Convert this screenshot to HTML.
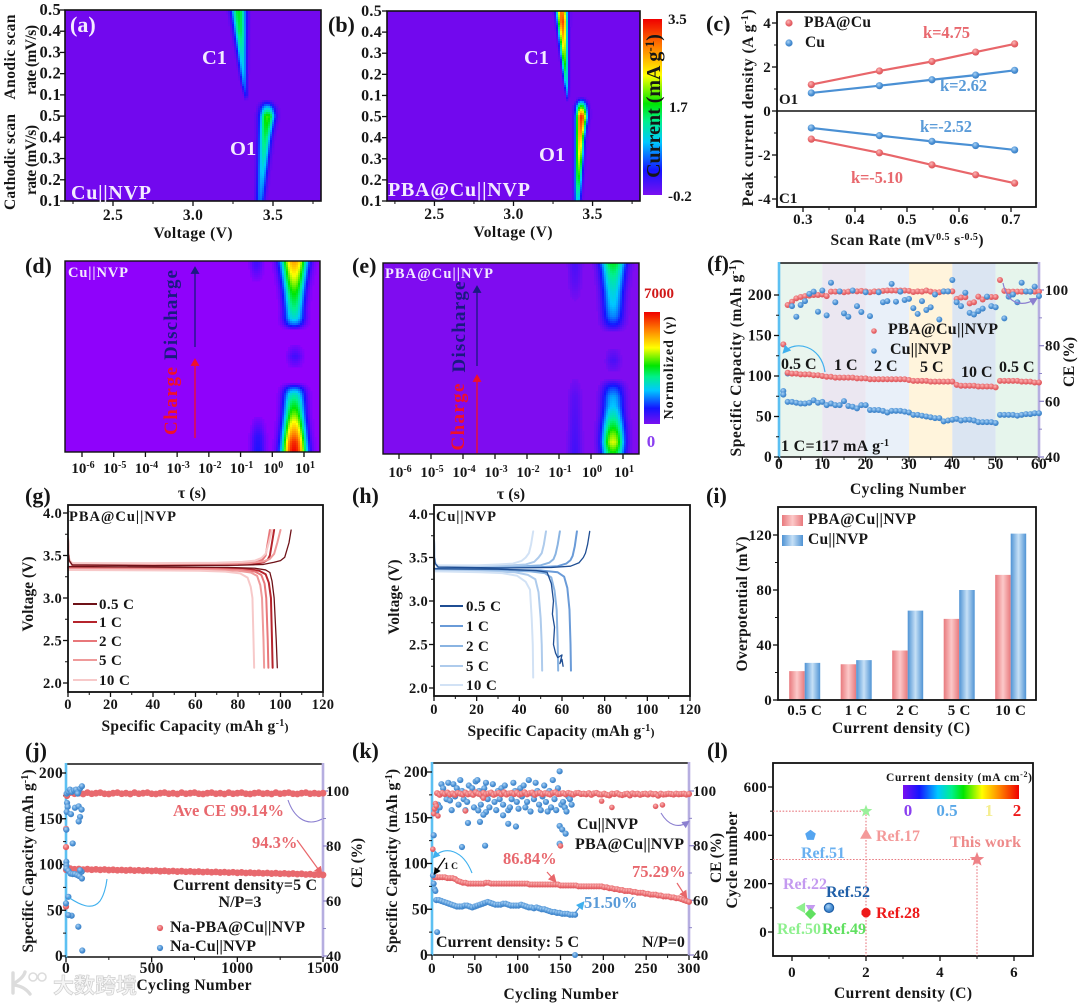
<!DOCTYPE html>
<html lang="en">
<head>
<meta charset="utf-8">
<title>Battery electrochemistry composite figure</title>
<style>
html,body{margin:0;padding:0;background:#fff;width:1080px;height:1004px;overflow:hidden}
svg{display:block;filter:blur(.3px)}
text{font-family:"Liberation Serif","Noto Sans CJK SC",serif;font-weight:bold;fill:#161616}
.tk{font-size:15px}
.ti{font-size:15.5px}
.pl{font-size:22px}
.lg{font-size:16px}
.red{fill:#e8686e}
.blu{fill:#5a9bd8}
.wh{fill:#f3eaff}
</style>
</head>
<body>
<svg id="figure" xmlns="http://www.w3.org/2000/svg" width="1080" height="1004" viewBox="0 0 1080 1004">
<defs>
<radialGradient id="ballRed" cx="40%" cy="35%" r="70%"><stop offset="0" stop-color="#fbb7b7"/><stop offset=".6" stop-color="#e8666a"/><stop offset="1" stop-color="#d95459"/></radialGradient>
<radialGradient id="ballBlue" cx="40%" cy="35%" r="70%"><stop offset="0" stop-color="#a9d2f5"/><stop offset=".6" stop-color="#4a90d4"/><stop offset="1" stop-color="#3a7cc0"/></radialGradient>
<linearGradient id="barRed" x1="0" x2="1" y1="0" y2="0"><stop offset="0" stop-color="#e8797d"/><stop offset=".5" stop-color="#fcc9c9"/><stop offset="1" stop-color="#e8797d"/></linearGradient>
<linearGradient id="barBlue" x1="0" x2="1" y1="0" y2="0"><stop offset="0" stop-color="#4f93d4"/><stop offset=".5" stop-color="#c6e0f6"/><stop offset="1" stop-color="#4f93d4"/></linearGradient>
<linearGradient id="rainbowV" x1="0" x2="0" y1="1" y2="0"><stop offset="0" stop-color="#7a10f0"/><stop offset=".14" stop-color="#1414ff"/><stop offset=".3" stop-color="#00c8ff"/><stop offset=".42" stop-color="#00f08c"/><stop offset=".52" stop-color="#00e600"/><stop offset=".68" stop-color="#ffff00"/><stop offset=".84" stop-color="#ff8000"/><stop offset="1" stop-color="#f00000"/></linearGradient>
<linearGradient id="rainbowH" x1="0" x2="1" y1="0" y2="0"><stop offset="0" stop-color="#7a10f0"/><stop offset=".14" stop-color="#1414ff"/><stop offset=".3" stop-color="#00c8ff"/><stop offset=".42" stop-color="#00f08c"/><stop offset=".52" stop-color="#00e600"/><stop offset=".68" stop-color="#ffff00"/><stop offset=".84" stop-color="#ff8000"/><stop offset="1" stop-color="#f00000"/></linearGradient>
<marker id="headBlue" markerWidth="7" markerHeight="7" refX="5" refY="3.5" orient="auto"><path d="M0,0L7,3.5L0,7Z" fill="#3fb0ee"/></marker>
<marker id="headPurple" markerWidth="7" markerHeight="7" refX="5" refY="3.5" orient="auto"><path d="M0,0L7,3.5L0,7Z" fill="#8b7fd0"/></marker>
<marker id="headRed" markerWidth="7" markerHeight="7" refX="5" refY="3.5" orient="auto"><path d="M0,0L7,3.5L0,7Z" fill="#e8666a"/></marker>
<marker id="headNavy" markerWidth="6" markerHeight="7" refX="3" refY="3.5" orient="auto"><path d="M0,0L6,3.5L0,7Z" fill="#1a1a80"/></marker>
<marker id="headCrim" markerWidth="6" markerHeight="7" refX="3" refY="3.5" orient="auto"><path d="M0,0L6,3.5L0,7Z" fill="#f0102a"/></marker>
<marker id="headBlack" markerWidth="6" markerHeight="6" refX="4" refY="3" orient="auto"><path d="M0,0L6,3L0,6Z" fill="#000"/></marker>
</defs>

<!-- PANEL A -->
<g id="panel-a">
<rect x="65" y="10" width="256" height="191" fill="#7208ee"/>
<g id="a-cells"></g>
<rect x="65" y="10" width="256" height="191" fill="none" stroke="#111" stroke-width="1.6"/>
<g id="a-axes"></g>
<text class="pl wh" x="70" y="32">(a)</text>
<text class="wh" x="202" y="64" style="font-size:20.5px">C1</text>
<text class="wh" x="230" y="155" style="font-size:20.5px">O1</text>
<text class="wh" x="71" y="199" style="font-size:20px" textLength="80">Cu||NVP</text>
<text class="ti" transform="translate(15,57) rotate(-90)" text-anchor="middle" textLength="85">Anodic scan</text>
<text class="ti" transform="translate(36,60) rotate(-90)" text-anchor="middle" textLength="70">rate (mV/s)</text>
<text class="ti" transform="translate(15,162) rotate(-90)" text-anchor="middle" textLength="96">Cathodic scan</text>
<text class="ti" transform="translate(36,160) rotate(-90)" text-anchor="middle" textLength="70">rate (mV/s)</text>
<text class="ti" x="193" y="238" text-anchor="middle" textLength="79">Voltage (V)</text>
</g>

<!-- PANEL B -->
<g id="panel-b">
<rect x="387" y="11" width="253" height="190" fill="#7208ee"/>
<g id="b-cells"></g>
<rect x="387" y="11" width="253" height="190" fill="none" stroke="#111" stroke-width="1.6"/>
<g id="b-axes"></g>
<text class="pl" x="328" y="32">(b)</text>
<text class="wh" x="524" y="64" style="font-size:20.5px">C1</text>
<text class="wh" x="539" y="161" style="font-size:20.5px">O1</text>
<text class="wh" x="388" y="196" style="font-size:20px" textLength="142">PBA@Cu||NVP</text>
<text class="ti" x="513" y="237" text-anchor="middle" textLength="79">Voltage (V)</text>
<rect x="643" y="19" width="19" height="176" fill="url(#rainbowV)"/>
<text transform="translate(660,106) rotate(-90)" text-anchor="middle" style="font-size:20px">Current (mA g<tspan dy="-6" style="font-size:13px">-1</tspan><tspan dy="6">)</tspan></text>
<text class="tk" x="668" y="24">3.5</text>
<text class="tk" x="669" y="112">1.7</text>
<text class="tk" x="668" y="201">-0.2</text>
</g>

<!-- PANEL C -->
<g id="panel-c">
<rect x="777" y="12" width="259" height="195" fill="#fff" stroke="#111" stroke-width="1.8"/>
<line x1="777" x2="1036" y1="111" y2="111" stroke="#111" stroke-width="1.5"/>
<g id="c-marks"></g>
<g id="c-axes"></g>
<text class="pl" x="706" y="31">(c)</text>
<text class="ti" x="804" y="27" textLength="67">PBA@Cu</text>
<text class="ti" x="805" y="47">Cu</text>
<text class="red" x="923" y="38" style="font-size:16.5px" textLength="47">k=4.75</text>
<text class="blu" x="940" y="91" style="font-size:16.5px" textLength="47">k=2.62</text>
<text class="blu" x="920" y="132" style="font-size:16.5px" textLength="52">k=-2.52</text>
<text class="red" x="851" y="183" style="font-size:16.5px" textLength="52">k=-5.10</text>
<text class="tk" x="779" y="104">O1</text>
<text class="tk" x="779" y="203">C1</text>
<text class="ti" transform="translate(753,108) rotate(-90)" text-anchor="middle" textLength="197">Peak current density (A g<tspan dy="-5" style="font-size:10px">-1</tspan><tspan dy="5">)</tspan></text>
<text class="ti" x="907" y="245" text-anchor="middle" textLength="153">Scan Rate (mV<tspan dy="-5" style="font-size:10px">0.5</tspan><tspan dy="5"> s</tspan><tspan dy="-5" style="font-size:10px">-0.5</tspan><tspan dy="5">)</tspan></text>
</g>

<!-- PANEL D -->
<g id="panel-d">
<rect x="65" y="261" width="255" height="191" fill="#8f02fb"/>
<g id="d-cells"></g>
<rect x="65" y="261" width="255" height="191" fill="none" stroke="#111" stroke-width="1.4"/>
<g id="d-axes"></g>
<text class="pl" x="25" y="273">(d)</text>
<text class="wh" x="68" y="277" style="font-size:14.5px" textLength="60">Cu||NVP</text>
<text transform="translate(177,315) rotate(-90)" text-anchor="middle" style="font-size:19px;fill:#1a1a80" textLength="90">Discharge</text>
<text transform="translate(177,401) rotate(-90)" text-anchor="middle" style="font-size:19px;fill:#f0102a" textLength="68">Charge</text>
<line x1="195" x2="195" y1="347" y2="270" stroke="#1a1a80" stroke-width="1.3" marker-end="url(#headNavy)"/>
<line x1="195" x2="195" y1="438" y2="362" stroke="#f0102a" stroke-width="1.3" marker-end="url(#headCrim)"/>
<text x="192" y="498" text-anchor="middle" style="font-size:16px">τ (s)</text>
</g>

<!-- PANEL E -->
<g id="panel-e">
<rect x="383" y="263" width="256" height="191" fill="#7f0cf0"/>
<g id="e-cells"></g>
<rect x="383" y="263" width="256" height="191" fill="none" stroke="#111" stroke-width="1.4"/>
<g id="e-axes"></g>
<text class="pl" x="352" y="273">(e)</text>
<text class="wh" x="385" y="278" style="font-size:14.5px" textLength="108">PBA@Cu||NVP</text>
<text transform="translate(465,327) rotate(-90)" text-anchor="middle" style="font-size:19px;fill:#1a1a80" textLength="91">Discharge</text>
<text transform="translate(464,417) rotate(-90)" text-anchor="middle" style="font-size:19px;fill:#f0102a" textLength="67">Charge</text>
<line x1="477" x2="477" y1="366" y2="289" stroke="#1a1a80" stroke-width="1.3" marker-end="url(#headNavy)"/>
<line x1="477" x2="477" y1="453" y2="378" stroke="#f0102a" stroke-width="1.3" marker-end="url(#headCrim)"/>
<text x="511" y="499" text-anchor="middle" style="font-size:16px">τ (s)</text>
<rect x="644" y="312" width="16" height="112" fill="url(#rainbowV)"/>
<text x="644" y="298" style="font-size:15px;fill:#d01818">7000</text>
<text x="651" y="447" text-anchor="middle" style="font-size:17px;fill:#8a3ff0">0</text>
<text transform="translate(673,368) rotate(-90)" text-anchor="middle" style="font-size:14px" textLength="103">Normolized (γ)</text>
</g>

<!-- PANEL F -->
<g id="panel-f">
<g id="f-bands"></g>
<line x1="779" x2="1039" y1="263" y2="263" stroke="#111" stroke-width="1.6"/>
<line x1="779" x2="1039" y1="457" y2="457" stroke="#111" stroke-width="1.6"/>
<line x1="779" x2="779" y1="262" y2="458" stroke="#5cc0f2" stroke-width="2.6"/>
<line x1="1039" x2="1039" y1="262" y2="458" stroke="#b6aee0" stroke-width="2.6"/>
<g id="f-axes"></g>
<g id="f-marks"></g>
<text class="pl" x="707" y="271">(f)</text>
<text class="lg" x="888" y="334" textLength="110">PBA@Cu||NVP</text>
<text class="lg" x="890" y="354" textLength="61">Cu||NVP</text>
<text class="lg" x="781" y="369">0.5 C</text>
<text class="lg" x="834" y="370">1 C</text>
<text class="lg" x="874" y="371">2 C</text>
<text class="lg" x="920" y="372">5 C</text>
<text class="lg" x="961" y="377">10 C</text>
<text class="lg" x="999" y="372">0.5 C</text>
<text class="lg" x="781" y="451" textLength="108">1 C=117 mA g<tspan dy="-5" style="font-size:10px">-1</tspan></text>
<path d="M825,372C821,345 795,340 784,352" fill="none" stroke="#3fb0ee" stroke-width="1.2" marker-end="url(#headBlue)"/>
<path d="M1003,283C1008,307 1024,306 1036,299" fill="none" stroke="#8b7fd0" stroke-width="1.2" marker-end="url(#headPurple)"/>
<text class="ti" transform="translate(741,358) rotate(-90)" text-anchor="middle" textLength="197">Specific Capacity (mAh g<tspan dy="-5" style="font-size:10px">-1</tspan><tspan dy="5">)</tspan></text>
<text class="ti" transform="translate(1074,362) rotate(-90)" text-anchor="middle" textLength="50">CE (%)</text>
<text class="ti" x="908" y="494" text-anchor="middle" textLength="116">Cycling Number</text>
</g>

<!-- PANEL G -->
<g id="panel-g">
<g id="g-lines"></g>
<rect x="68" y="505" width="255" height="187" fill="none" stroke="#111" stroke-width="1.8"/>
<g id="g-axes"></g>
<text class="pl" x="25" y="503">(g)</text>
<text x="69" y="521" style="font-size:14.5px" textLength="107">PBA@Cu||NVP</text>
<text class="ti" transform="translate(33,594) rotate(-90)" text-anchor="middle" textLength="75">Voltage (V)</text>
<text class="ti" x="195" y="731" text-anchor="middle" textLength="187">Specific Capacity <tspan style="font-size:12px">(</tspan>mAh g<tspan dy="-5" style="font-size:10px">-1</tspan><tspan dy="5" style="font-size:12px">)</tspan></text>
</g>

<!-- PANEL H -->
<g id="panel-h">
<g id="h-lines"></g>
<rect x="434" y="505" width="256" height="191" fill="none" stroke="#111" stroke-width="1.8"/>
<g id="h-axes"></g>
<text class="pl" x="352" y="503">(h)</text>
<text x="436" y="521" style="font-size:14.5px" textLength="60">Cu||NVP</text>
<text class="ti" transform="translate(399,597) rotate(-90)" text-anchor="middle" textLength="75">Voltage (V)</text>
<text class="ti" x="561" y="736" text-anchor="middle" textLength="187">Specific Capacity <tspan style="font-size:12px">(</tspan>mAh g<tspan dy="-5" style="font-size:10px">-1</tspan><tspan dy="5" style="font-size:12px">)</tspan></text>
</g>

<!-- PANEL I -->
<g id="panel-i">
<g id="i-bars"></g>
<rect x="778" y="507" width="258" height="193" fill="none" stroke="#111" stroke-width="1.8"/>
<g id="i-axes"></g>
<text class="pl" x="706" y="503">(i)</text>
<rect x="782" y="515" width="21" height="11" fill="url(#barRed)"/>
<rect x="782" y="535" width="21" height="11" fill="url(#barBlue)"/>
<text class="ti" x="808" y="524" textLength="108">PBA@Cu||NVP</text>
<text class="ti" x="808" y="544" textLength="60">Cu||NVP</text>
<text class="ti" transform="translate(747,604) rotate(-90)" text-anchor="middle" textLength="135">Overpotential (mV)</text>
<text class="ti" x="901" y="733" text-anchor="middle" textLength="138">Current density (C)</text>
</g>

<!-- PANEL J -->
<g id="panel-j">
<line x1="66" x2="323" y1="764" y2="764" stroke="#111" stroke-width="1.6"/>
<line x1="66" x2="323" y1="957" y2="957" stroke="#111" stroke-width="1.6"/>
<line x1="66" x2="66" y1="763" y2="958" stroke="#5cc0f2" stroke-width="2.6"/>
<line x1="323" x2="323" y1="763" y2="958" stroke="#b6aee0" stroke-width="2.6"/>
<g id="j-axes"></g>
<g id="j-marks"></g>
<text class="pl" x="25" y="758">(j)</text>
<text class="red" x="173" y="816" style="font-size:16.5px" textLength="111">Ave CE 99.14%</text>
<text class="red" x="252" y="848" style="font-size:16.5px">94.3%</text>
<line x1="297" y1="840" x2="321" y2="873" stroke="#e8666a" stroke-width="1.2" marker-end="url(#headRed)"/>
<text class="lg" x="245" y="890" text-anchor="middle" textLength="144">Current density=5 C</text>
<text class="lg" x="240" y="907" text-anchor="middle">N/P=3</text>
<text class="lg" x="170" y="932" textLength="135">Na-PBA@Cu||NVP</text>
<text class="lg" x="170" y="951" textLength="86">Na-Cu||NVP</text>
<path d="M68,897C80,905 92,911 100,901C104,895 106,887 107,879" fill="none" stroke="#3fb0ee" stroke-width="1.1"/>
<path d="M288,800C293,815 305,828 322,819" fill="none" stroke="#8b7fd0" stroke-width="1.1"/>
<text class="ti" transform="translate(33,861) rotate(-90)" text-anchor="middle" textLength="183">Specific Capacity <tspan style="font-size:12px">(</tspan>mAh g<tspan dy="-5" style="font-size:10px">-1</tspan><tspan dy="5">)</tspan></text>
<text class="ti" transform="translate(362,863) rotate(-90)" text-anchor="middle" textLength="50">CE (%)</text>
<text class="ti" x="194" y="990" text-anchor="middle" textLength="115">Cycling Number</text>
</g>

<!-- PANEL K -->
<g id="panel-k">
<line x1="432" x2="689" y1="763" y2="763" stroke="#111" stroke-width="1.6"/>
<line x1="432" x2="689" y1="955" y2="955" stroke="#111" stroke-width="1.6"/>
<line x1="432" x2="432" y1="762" y2="956" stroke="#5cc0f2" stroke-width="2.6"/>
<line x1="689" x2="689" y1="762" y2="956" stroke="#b6aee0" stroke-width="2.6"/>
<g id="k-axes"></g>
<g id="k-marks"></g>
<text class="pl" x="352" y="758">(k)</text>
<text class="lg" x="577" y="829" textLength="61">Cu||NVP</text>
<text class="lg" x="575" y="849" textLength="109">PBA@Cu||NVP</text>
<text class="red" x="503" y="864" style="font-size:16.5px">86.84%</text>
<text class="red" x="632" y="877" style="font-size:16.5px">75.29%</text>
<text class="blu" x="584" y="908" style="font-size:16.5px">51.50%</text>
<text class="lg" x="436" y="947" textLength="143">Current density: 5 C</text>
<text class="lg" x="642" y="947">N/P=0</text>
<text x="444" y="869" style="font-size:9.5px">1 C</text>
<line x1="445" y1="858" x2="435" y2="873" stroke="#000" stroke-width="1.2" marker-end="url(#headBlack)"/>
<line x1="547" y1="872" x2="555" y2="881" stroke="#e8666a" stroke-width="1.2" marker-end="url(#headRed)"/>
<line x1="677" y1="883" x2="686" y2="897" stroke="#e8666a" stroke-width="1.2" marker-end="url(#headRed)"/>
<line x1="575" y1="913" x2="583" y2="903" stroke="#4a90d4" stroke-width="1.2" marker-end="url(#headBlue)"/>
<path d="M472,873C463,850 445,845 434,857" fill="none" stroke="#3fb0ee" stroke-width="1.1" marker-end="url(#headBlue)"/>
<path d="M661,813C668,825 678,829 688,822" fill="none" stroke="#8b7fd0" stroke-width="1.1" marker-end="url(#headPurple)"/>
<text class="ti" transform="translate(397,861) rotate(-90)" text-anchor="middle" textLength="184">Specific Capacity (mAh g<tspan dy="-5" style="font-size:10px">-1</tspan><tspan dy="5">)</tspan></text>
<text class="ti" transform="translate(721,858) rotate(-90)" text-anchor="middle" textLength="50">CE (%)</text>
<text class="ti" x="561" y="999" text-anchor="middle" textLength="115">Cycling Number</text>
</g>

<!-- PANEL L -->
<g id="panel-l">
<rect x="773" y="763" width="260" height="193" fill="#fff" stroke="#111" stroke-width="1.8"/>
<g id="l-marks"></g>
<g id="l-axes"></g>
<text class="pl" x="707" y="758">(l)</text>
<text x="886" y="781" style="font-size:11.5px" textLength="146">Current density (mA cm<tspan dy="-4" style="font-size:8px">-2</tspan><tspan dy="4">)</tspan></text>
<rect x="903" y="785" width="116" height="14" fill="url(#rainbowH)"/>
<text x="908" y="816" text-anchor="middle" style="font-size:17px;fill:#8a3ff0">0</text>
<text x="947" y="816" text-anchor="middle" style="font-size:17px;fill:#5aa8e8">0.5</text>
<text x="989" y="816" text-anchor="middle" style="font-size:17px;fill:#f5ee90">1</text>
<text x="1017" y="816" text-anchor="middle" style="font-size:17px;fill:#ee1a1a">2</text>
<text x="876" y="841" style="font-size:16px;fill:#f49a9a">Ref.17</text>
<text x="950" y="847" style="font-size:16px;fill:#ee8a8a" textLength="71">This work</text>
<text x="801" y="858" style="font-size:16px;fill:#6ab0f0">Ref.51</text>
<text x="783" y="889" style="font-size:16px;fill:#c49af0">Ref.22</text>
<text x="826" y="897" style="font-size:16px;fill:#1f5fa8">Ref.52</text>
<text x="876" y="918" style="font-size:16px;fill:#ee1a1a">Ref.28</text>
<text x="777" y="934" style="font-size:16px;fill:#8ef08e">Ref.50</text>
<text x="822" y="934" style="font-size:16px;fill:#60e060">Ref.49</text>
<text class="ti" transform="translate(737,860) rotate(-90)" text-anchor="middle" textLength="97">Cycle number</text>
<text class="ti" x="903" y="998" text-anchor="middle" textLength="138">Current density (C)</text>
</g>

<!-- WATERMARK -->
<g>
<path d="M13,973V993M13,984C20,980 24,976 25,972M14,985C22,986 27,990 30,994" fill="none" stroke="#dcdcdc" stroke-width="3.4" stroke-linecap="round"/>
<circle cx="33" cy="977" r="4" fill="none" stroke="#dcdcdc" stroke-width="1.6"/>
<circle cx="42" cy="977" r="4" fill="none" stroke="#dcdcdc" stroke-width="1.6"/>
<text x="53" y="993" style="font-family:'Noto Sans CJK SC',sans-serif;font-size:21px;fill:#f5f5f5;stroke:#cfcfcf;stroke-width:.7">大数跨境</text>
</g>
</svg>

<script>
/* ---------- panel (a),(b) ridge readings: row, centre voltage, half width, peak ---------- */
const aC1Rows=[4.75,5,5.5,6,7,8,9];
const aC1Center=[3.33,3.33,3.32,3.315,3.305,3.295,3.285];
const aC1Half=[0.01,0.018,0.026,0.032,0.043,0.054,0.066];
const aC1Peak=[0.03,0.14,0.22,0.28,0.36,0.46,0.5];
const aO1Rows=[0,1,2,3,4,4.4,4.75];
const aO1Center=[3.42,3.43,3.44,3.45,3.465,3.465,3.46];
const aO1Half=[0.04,0.045,0.05,0.056,0.068,0.066,0.05];
const aO1Peak=[0.22,0.28,0.36,0.45,0.56,0.3,0.03];
const bC1Rows=[4.75,5,5.5,6,7,8,8.5,9];
const bC1Center=[3.34,3.34,3.335,3.33,3.32,3.313,3.31,3.305];
const bC1Half=[0.007,0.013,0.02,0.025,0.033,0.04,0.044,0.048];
const bC1Peak=[0.03,0.2,0.32,0.42,0.62,0.82,0.92,0.85];
const bO1Rows=[0,1,2,3,4,4.5,4.9];
const bO1Center=[3.405,3.41,3.415,3.42,3.43,3.43,3.43];
const bO1Half=[0.03,0.033,0.036,0.04,0.05,0.05,0.036];
const bO1Peak=[0.32,0.5,0.65,0.78,0.95,0.5,0.03];
const voltageTicks=[2.5,3,3.5];
const voltageTickLabels=['2.5','3.0','3.5'];
const voltageMinor=[2.25,2.75,3.25,3.75];
const scanRows=[0,1,2,3,4,5,6,7,8,9];
const scanLabels=['0.1','0.2','0.3','0.4','0.5','0.1','0.2','0.3','0.4','0.5'];

/* ---------- panel (c) ---------- */
const cScan=[0.316,0.447,0.548,0.632,0.707];
const cPbaO1=[1.2,1.82,2.25,2.68,3.05];
const cCuO1=[0.82,1.15,1.42,1.63,1.85];
const cCuC1=[-0.77,-1.12,-1.38,-1.57,-1.77];
const cPbaC1=[-1.28,-1.9,-2.45,-2.9,-3.28];
const cXTicks=[0.3,0.4,0.5,0.6,0.7];
const cXLabels=['0.3','0.4','0.5','0.6','0.7'];
const cYTicks=[-4,-2,0,2,4];
const cYLabels=['-4','-2','0','2','4'];

/* ---------- panels (d),(e) DRT ridges: normalised time row, log10 tau, half width, peak ---------- */
const tauExponents=[-6,-5,-4,-3,-2,-1,0,1];
const dLowRows=[0,0.05,0.1,0.15,0.2,0.25,0.3,0.33,0.36];
const dLowCenter=[0.69,0.69,0.69,0.69,0.69,0.69,0.69,0.69,0.69];
const dLowHalf=[0.56,0.54,0.52,0.5,0.48,0.48,0.48,0.48,0.46];
const dLowPeak=[1,0.95,0.82,0.7,0.58,0.48,0.38,0.24,0.02];
const dMidRows=[0.44,0.5,0.56];
const dMidCenter=[0.72,0.72,0.72];
const dMidHalf=[0.3,0.34,0.3];
const dMidPeak=[0.02,0.09,0.02];
const dTopRows=[0.64,0.67,0.7,0.75,0.8,0.85,0.9,0.95,1];
const dTopCenter=[0.69,0.69,0.69,0.69,0.69,0.69,0.69,0.69,0.69];
const dTopHalf=[0.4,0.46,0.46,0.44,0.46,0.48,0.52,0.56,0.6];
const dTopPeak=[0.02,0.22,0.34,0.42,0.48,0.55,0.64,0.72,0.8];
const dFaintRows=[0,0.08,0.18];
const dFaintCenter=[-0.45,-0.45,-0.45];
const dFaintHalf=[0.32,0.32,0.26];
const dFaintPeak=[0.13,0.11,0.02];
const dFaintTopRows=[0.9,0.97,1];
const dFaintTopCenter=[-0.5,-0.5,-0.5];
const dFaintTopHalf=[0.26,0.28,0.3];
const dFaintTopPeak=[0.02,0.08,0.09];
const eLowRows=[0,0.06,0.1,0.15,0.2,0.25,0.3,0.35,0.39];
const eLowCenter=[0.69,0.69,0.69,0.69,0.69,0.69,0.69,0.69,0.69];
const eLowHalf=[0.5,0.5,0.5,0.5,0.48,0.48,0.48,0.48,0.44];
const eLowPeak=[0.5,0.66,0.6,0.48,0.38,0.3,0.27,0.17,0.02];
const eMidRows=[0.43,0.49,0.55];
const eMidCenter=[0.7,0.7,0.7];
const eMidHalf=[0.3,0.32,0.3];
const eMidPeak=[0.02,0.07,0.02];
const eTopRows=[0.64,0.68,0.72,0.78,0.85,0.92,0.97,1];
const eTopCenter=[0.69,0.69,0.69,0.69,0.69,0.69,0.69,0.69];
const eTopHalf=[0.4,0.46,0.46,0.46,0.48,0.52,0.54,0.58];
const eTopPeak=[0.02,0.15,0.24,0.3,0.34,0.4,0.46,0.5];
const eFaintRows=[0,0.3,0.4,0.8,0.9,1];
const eFaintCenter=[-0.5,-0.5,-0.5,-0.5,-0.5,-0.5];
const eFaintHalf=[0.3,0.28,0.24,0.24,0.28,0.3];
const eFaintPeak=[0.08,0.05,0.01,0.01,0.05,0.07];

/* ---------- panel (f) ---------- */
const fCycles=[1,2,3,4,5,6,7,8,9,10,11,12,13,14,15,16,17,18,19,20,21,22,23,24,25,26,27,28,29,30,31,32,33,34,35,36,37,38,39,40,41,42,43,44,45,46,47,48,49,50,51,52,53,54,55,56,57,58,59,60];
const fPbaCap=[139,104,103,103,102,102,102,101,101,100,99,99,98,98,98,98,98,97,97,97,96,96,96,96,96,96,96,96,96,95,94,94,94,94,93,93,93,93,93,93,89,88,88,88,88,87,87,87,87,86,94,94,94,94,94,93,93,93,92,92];
const fCuCap=[77,68,68,67,66,66,67,70,67,68,64,66,64,64,69,63,62,60,64,64,58,58,58,57,55,57,57,57,56,55,52,52,51,50,49,48,48,44,45,46,47,45,46,46,45,43,43,43,43,42,52,52,52,52,51,52,53,53,54,54];
const fPbaCE=[null,94.6,95.8,97,97.5,97.8,98,98.2,98.2,98.4,97.8,99.4,99.4,99.4,99.2,99.4,99.7,99.5,99.7,99.5,99.2,99.5,99.5,99.7,99.8,99.8,99.8,99.8,99.8,99.7,99.3,99.5,99.4,99.8,99.4,99.2,99.2,99.5,99.5,99.5,96.8,97.3,97.4,95.2,95.6,97.6,96.6,97.5,97.5,97.5,103.6,99.7,99.4,99.4,99.4,99.4,99.4,99.4,99.4,99.4];
const fCuCE=[63.7,70,94.2,90.4,94.6,96,98.6,99.4,92.2,99.8,90.9,102.6,95.6,99.5,91.6,90.4,99.8,94.2,92.1,99.2,90.6,null,99.2,95.6,96,102.2,95.8,99.4,96.4,96.8,93.5,91.4,96,92.8,93.8,98.4,89.4,99.5,99.5,103.6,95.6,94.2,99,91.8,91.2,92.4,93.3,97.6,94.2,93.8,null,89.8,97.6,98.4,95.6,102.6,99.5,99.4,101.2,97.8];
const fBandEdges=[0,10,20,30,40,50,60];
const fXTicks=[0,10,20,30,40,50,60];
const fXLabels=['0','10','20','30','40','50','60'];
const fYTicks=[0,50,100,150,200];
const fYLabels=['0','50','100','150','200'];
const fCETicks=[40,60,80,100];
const fCELabels=['40','60','80','100'];

/* ---------- panels (g),(h) ---------- */
const rates=['0.5 C','1 C','2 C','5 C','10 C'];
const gChargeQ=[[0,0.2,0.6,2,40,80,92,97,100,102,104,105],[0,0.2,0.6,2,40,75,88,92,94,95,96,97],[0,0.2,0.6,2,40,72,84,89,91.5,93,94,95],[0,0.2,0.6,2,40,72,86,92,95,97,98.5,100],[0,0.2,0.6,2,40,70,82,88,91,93,94.5,96]];
const gChargeV=[[3.7,3.52,3.44,3.39,3.38,3.385,3.395,3.42,3.44,3.48,3.65,3.8],[3.7,3.52,3.44,3.39,3.385,3.39,3.4,3.42,3.45,3.5,3.65,3.8],[3.7,3.52,3.44,3.39,3.39,3.395,3.405,3.425,3.45,3.5,3.65,3.8],[3.7,3.52,3.44,3.4,3.4,3.405,3.415,3.43,3.46,3.52,3.65,3.8],[3.7,3.52,3.45,3.41,3.41,3.415,3.425,3.44,3.47,3.52,3.65,3.8]];
const gDisQ=[[0,2,40,75,88,93,95,96,97,98,98.5],[0,2,40,72,85,90,93,94.5,95.5,96,96.3],[0,2,40,70,82,88,91,92.5,93.3,94,94.3],[0,2,40,68,80,86,89,90.5,91.3,92,92.3],[0,2,40,62,74,81,84.5,86,86.8,87.3,87.6]];
const gDisV=[[3.37,3.37,3.365,3.36,3.35,3.33,3.3,3.2,3,2.5,2.18],[3.36,3.36,3.355,3.35,3.34,3.32,3.28,3.18,3,2.5,2.18],[3.35,3.35,3.345,3.34,3.33,3.31,3.27,3.17,3,2.5,2.18],[3.34,3.34,3.335,3.33,3.32,3.3,3.26,3.15,3,2.5,2.18],[3.33,3.33,3.325,3.32,3.31,3.29,3.24,3.13,3,2.5,2.18]];
const hChargeQ=[[0,0.2,0.6,2,30,55,64,68,70,71,72,73],[0,0.2,0.6,2,30,50,58,62,64,65,66,67],[0,0.2,0.6,2,28,42,50,54,56,57,58,59],[0,0.2,0.6,2,24,36,43,47,49,50.5,51.5,52.5],[0,0.2,0.6,2,20,30,37,41,43,44.5,45.5,46.5]];
const hChargeV=[[3.7,3.5,3.43,3.39,3.38,3.385,3.4,3.44,3.5,3.55,3.65,3.8],[3.7,3.5,3.43,3.39,3.38,3.39,3.4,3.43,3.47,3.52,3.63,3.8],[3.7,3.5,3.43,3.39,3.39,3.4,3.41,3.44,3.48,3.54,3.65,3.8],[3.7,3.5,3.43,3.4,3.4,3.41,3.42,3.45,3.5,3.55,3.65,3.8],[3.7,3.5,3.43,3.41,3.41,3.42,3.43,3.46,3.5,3.55,3.65,3.8]];
const hDisQ=[[0,2,30,48,53,55,56,55.5,56.5,56,57,58,60,59,60,60.5],[0,2,30,50,58,61,62.5,63.5,64,64.2],[0,2,30,45,52,55,56.5,57.5,58,58.2],[0,2,25,38,44,47.5,49,50,50.5,50.7],[0,2,22,32,39,43,45,45.8,46.3,46.5]];
const hDisV=[[3.37,3.37,3.365,3.35,3.33,3.2,3,2.85,2.7,2.5,2.4,2.35,2.38,2.28,2.33,2.25],[3.37,3.37,3.36,3.35,3.33,3.28,3.15,2.9,2.5,2.2],[3.36,3.36,3.35,3.34,3.32,3.27,3.12,2.9,2.5,2.2],[3.35,3.35,3.34,3.33,3.3,3.25,3.1,2.8,2.5,2.2],[3.34,3.34,3.33,3.32,3.29,3.22,3.13,2.8,2.5,2.12]];
const capTicks=[0,20,40,60,80,100,120];
const capLabels=['0','20','40','60','80','100','120'];
const voltTicks=[2,2.5,3,3.5,4];
const voltLabels=['2.0','2.5','3.0','3.5','4.0'];

/* ---------- panel (i) ---------- */
const iCats=['0.5 C','1 C','2 C','5 C','10 C'];
const iPba=[21,26,36,59,91];
const iCu=[27,29,65,80,121];
const iYTicks=[0,40,80,120];
const iYLabels=['0','40','80','120'];

/* ---------- panel (j) ---------- */
const jSampleCycles=[25,50,75,100,125,150,175,200,225,250,275,300,325,350,375,400,425,450,475,500,525,550,575,600,625,650,675,700,725,750,775,800,825,850,875,900,925,950,975,1000,1025,1050,1075,1100,1125,1150,1175,1200,1225,1250,1275,1300,1325,1350,1375,1400,1425,1450,1475,1500];
const jPbaCE=[99.4,99.0,99.2,98.9,99.4,99.0,99.2,99.4,99.0,98.9,99.2,99.4,99.0,99.2,98.9,99.4,99.0,99.2,99.4,99.0,98.9,99.2,99.4,99.0,99.2,98.9,99.4,99.0,99.2,99.4,99.0,98.9,99.2,99.4,99.0,99.2,98.9,99.4,99.0,99.2,99.4,99.0,98.9,99.2,99.4,99.0,99.2,98.9,99.4,99.0,99.2,99.4,99.0,98.9,99.2,99.4,99.0,99.2,99.0,99.2];
const jPbaCap=[95.4,94.8,95.1,94.4,94.9,94.3,94.7,94.1,94.5,93.9,94.2,93.7,94,93.5,93.9,93.3,93.7,93.1,93.5,92.9,93.3,92.7,93.1,92.5,92.9,92.3,92.7,92.1,92.5,91.9,92.3,91.7,92.1,91.5,91.9,91.3,91.7,91.1,91.5,90.9,91.3,90.7,91.1,90.5,90.9,90.3,90.7,90.1,90.5,89.9,90.3,89.7,90.1,89.5,89.8,89.1,89.4,88.8,89,88.6];
const jPbaEarlyCycles=[0,0,0,0,3,6];
const jPbaEarlyCap=[119,54,139,94,176,175];
const jCuCycles=[4,14,23,33,47,58,72,82,93,68,6,10,4,29,52,74,91,82,74,2,39,2,2,2,14,27,39,52,66,78,91,93,82,14,0,33,14,72,95];
const jCuCap=[177.5,179.3,181.8,179.3,181,181.8,179.3,183,185.5,177.5,167.3,163,157.5,155,162,163.6,160,152,147,138,123,103,99,95.6,93,90,89.5,89.5,88.4,87.3,92,84.7,93.8,64.7,57.5,44,44.7,32,6];
const jXTicks=[0,500,1000,1500];
const jXLabels=['0','500','1000','1500'];
const jYTicks=[0,50,100,150,200];
const jYLabels=['0','50','100','150','200'];
const jCETicks=[40,60,80,100];
const jCELabels=['40','60','80','100'];

/* ---------- panel (k) ---------- */
const kPbaCap=[85,85,85,85,85,84,84,84,83,81,80,79,79,78,78,78,78,78,78,78,79,79,78,78,78,78,78,78,78,78,78,78,78,78,78,78,78,77,77,77,77,77,77,77,77,77,77,77,77,76,76,76,76,76,76,76,75,75,75,75,75,75,75,75,75,75,74,74,73,73,72,72,71,71,70,70,70,69,69,68,68,68,67,67,66,66,66,65,65,64,64,64,63,63,62,62,61,60,59,58];
const kPbaCE=[99.2,98.6,99.3,98.9,99.4,98.7,99.1,98.6,99.3,99,98.7,99.4,98.8,99.2,98.6,99.5,99,98.7,99.3,98.8,99.1,99.4,98.6,99,99.3,98.8,99.5,98.7,99.1,99.3,98.9,99.4,98.7,99,99.5,98.8,99.2,99.4,98.6,99.1,99.3,98.8,99.2,99,98.7,99.3,99.5,98.9,99,99.2,98.8,99.3,99,98.7,99.2,99.3,98.9,99,98.8,99.2,98.6,99.1,99.3,98.8,98.7,99,98.6,98.4,99,98.9,99.2,98.7,98.5,98.8,99,98.4,99.1,98.8,99,98.6,98.9,99,98.7,99.1,98.8,98.9,98.3,99,98.7,98.8,99,98.9,98.7,99,98.8,98.9,99,98.7,98.9];
const kPbaCEDipCycles=[1,2,3,4,5,7,39,60,150,198,210,261,269];
const kPbaCEDips=[78.7,91.7,93.5,95.4,94.5,90.9,92.7,97.4,79.9,96.3,94,94.4,94.9];
const kCuCap=[60,60,59,58,57,56,55,54,53,53,53,54,54,53,52,53,54,55,56,57,58,57,56,55,55,55,56,56,55,54,54,54,54,55,54,53,52,52,51,52,51,50,50,49,48,47,47,46,46,45,45,45,44,44,44];
const kCuEarlyCycles=[1,2,3,4,6,167];
const kCuEarlyCap=[87,78,72,70,25,0];
const kCuCE=[92.5,95,94,102.5,101,99,97,103,96.5,93,102.5,98,101,95,104,100,97,93,96,102,99,101,94,103.5,104,100,95,98,101,103,97,94,99,102.5,96,93,100,97,101,95,102,99,93,94,97,103,100,96,93.5,101,98,102,94,96,104,92.5,99,97,103,100,95,93,98,102,96,92.5,100,94,104,97,93,101,99,95,96,94,92.5,98,97,95];
const kCuOutlierCycles=[2,35,62,42,56,63,83,89,98,60,54,149,152,156,149,149];
const kCuOutliers=[83.8,79.5,80,88.3,88.7,92.3,91.1,88,87,91.3,92.9,87.2,85.9,84.4,80.7,107.2];
const kXTicks=[0,50,100,150,200,250,300];
const kXLabels=['0','50','100','150','200','250','300'];

/* ---------- panel (l) ---------- */
const lRefs=['Ref.17','This work','Ref.51','Ref.22','Ref.52','Ref.28','Ref.50','Ref.49','Ref.star'];
const lCurrent=[2,5,0.5,0.5,1,2,0.27,0.5,2];
const lCycles=[400,300,400,100,100,80,100,75,500];
const lXTicks=[0,2,4,6];
const lXLabels=['0','2','4','6'];
const lYTicks=[0,200,400,600];
const lYLabels=['0','200','400','600'];

/* ---------- rendering ---------- */
const NS='http://www.w3.org/2000/svg';
const $=id=>document.getElementById(id);
function mk(tag,parent,attrs){const e=document.createElementNS(NS,tag);for(const k in attrs)e.setAttribute(k,attrs[k]);parent.appendChild(e);return e;}
const lin=(d0,d1,r0,r1)=>v=>r0+(v-d0)*(r1-r0)/(d1-d0);

function xAxis(p,sx,vals,labels,y,ly,minor,fs,len){
  const tickLen=len==null?5:len;
  vals.forEach((v,i)=>{
    if(tickLen>0){
      const t=mk('line',p,{x1:sx(v),x2:sx(v),y1:y,y2:y+tickLen,stroke:'#111','stroke-width':1.3});
      
      
    }
    const l=mk('text',p,{x:sx(v),y:ly,'text-anchor':'middle',class:'tk',style:'font-size:'+(fs||15)+'px;letter-spacing:.3px'});
    l.textContent=labels[i];
    
    
  });
  (minor||[]).forEach(v=>{
    const t=mk('line',p,{x1:sx(v),x2:sx(v),y1:y,y2:y+3,stroke:'#111','stroke-width':1});
    
    
  });
}
function yAxis(p,sy,vals,labels,x,lx,minor,fs){
  vals.forEach((v,i)=>{
    const t=mk('line',p,{x1:x,x2:x-5,y1:sy(v),y2:sy(v),stroke:'#111','stroke-width':1.3});
    
    
    const l=mk('text',p,{x:lx,y:sy(v)+5,'text-anchor':'end',class:'tk',style:'font-size:'+(fs||15)+'px;letter-spacing:.3px'});
    l.textContent=labels[i];
    
    
  });
  (minor||[]).forEach(v=>{
    const t=mk('line',p,{x1:x,x2:x-3,y1:sy(v),y2:sy(v),stroke:'#111','stroke-width':1});
    
    
  });
}
function rightAxis(p,sy,vals,labels,x,lx,minor){
  vals.forEach((v,i)=>{
    const t=mk('line',p,{x1:x,x2:x+5,y1:sy(v),y2:sy(v),stroke:'#8f86c8','stroke-width':1.3});
    
    
    const l=mk('text',p,{x:lx,y:sy(v)+5,class:'tk',style:'letter-spacing:.3px'});
    l.textContent=labels[i];
    
    
  });
  (minor||[]).forEach(v=>{
    const t=mk('line',p,{x1:x,x2:x+3,y1:sy(v),y2:sy(v),stroke:'#8f86c8','stroke-width':1});
    
    
  });
}
function logAxis(p,sx,exps,y,ly){
  exps.forEach(e=>{
    const t=mk('line',p,{x1:sx(e),x2:sx(e),y1:y,y2:y+5,stroke:'#111','stroke-width':1.3});
    
    
    const l=mk('text',p,{x:sx(e)+1,y:ly,'text-anchor':'middle',class:'tk'});
    
    
    const a=mk('tspan',l,{});
    a.textContent='10';
    const b=mk('tspan',l,{dy:-5,style:'font-size:10px'});
    b.textContent=String(e);
  });
}
function scatter(p,xs,ys,sx,sy,r,fill,name){
  xs.forEach((x,i)=>{
    if(ys[i]==null)return;
    const c=mk('circle',p,{cx:sx(x),cy:sy(ys[i]),r:r,fill:fill});
    
    
  });
}
function polyline(p,xs,ys,sx,sy,stroke,w,name){
  const pts=xs.map((x,i)=>sx(x).toFixed(2)+','+sy(ys[i]).toFixed(2)).join(' ');
  const l=mk('polyline',p,{points:pts,fill:'none',stroke:stroke,'stroke-width':w,'stroke-linejoin':'round','stroke-linecap':'round'});
  
  
  return l;
}

/* heatmap */
const cmStops=[[0.14,[20,20,255]],[0.3,[0,200,255]],[0.42,[0,240,140]],[0.52,[0,230,0]],[0.68,[255,255,0]],[0.84,[255,128,0]],[1,[240,0,0]]];
function cmap(v,bg){
  let a=[0,bg];
  for(const b of cmStops){
    if(v<=b[0]){const t=(v-a[0])/(b[0]-a[0]);const c=a[1].map((q,i)=>Math.round(q+(b[1][i]-q)*t));return 'rgb('+c.join(',')+')';}
    a=b;
  }
  return 'rgb(240,0,0)';
}
function lerpAt(us,arr,u){
  for(let i=0;i<us.length-1;i++){
    if(u>=us[i]&&u<=us[i+1]){const t=(u-us[i])/(us[i+1]-us[i]);return arr[i]+(arr[i+1]-arr[i])*t;}
  }
  return null;
}
function ridge(group,rows,centers,halves,peaks,sx,sy,invY,box,bg){
  for(let y=box.y0;y<box.y1;y+=2){
    const u=invY(y+1);
    const p=lerpAt(rows,peaks,u);
    if(p==null)continue;
    const c=lerpAt(rows,centers,u),h=lerpAt(rows,halves,u),sigma=h*0.68;
    const xl=Math.max(box.x0,Math.floor(sx(c-h*2.1)/2)*2),xr=Math.min(box.x1,sx(c+h*2.1));
    const unit=sx(1)-sx(0);
    for(let x=xl;x<xr;x+=2){
      const d=Math.abs((x+1-sx(c))/unit);
      const v=p*Math.exp(-Math.pow(d/sigma,2.4));
      if(v<0.012)continue;
      const cell=mk('rect',group,{x:x,y:y,width:Math.min(2.3,box.x1-x),height:Math.min(2.3,box.y1-y),fill:cmap(v,bg)});
      
      
    }
  }
}

/* panels a,b */
(function(){
  const xA=lin(2.2,3.8,65,321),yA=lin(0,9,201,10),invA=lin(201,10,0,9),boxA={x0:65,x1:321,y0:10,y1:201},bgA=[114,8,238];
  ridge($('a-cells'),aC1Rows,aC1Center,aC1Half,aC1Peak,xA,yA,invA,boxA,bgA);
  ridge($('a-cells'),aO1Rows,aO1Center,aO1Half,aO1Peak,xA,yA,invA,boxA,bgA);
  xAxis($('a-axes'),xA,voltageTicks,voltageTickLabels,201,220,voltageMinor,15.5);
  yAxis($('a-axes'),yA,scanRows,scanLabels,65,61,null,16.5);
  const xB=lin(2.2,3.8,387,640),yB=lin(0,9,201,11),invB=lin(201,11,0,9),boxB={x0:387,x1:640,y0:11,y1:201},bgB=[114,8,238];
  ridge($('b-cells'),bC1Rows,bC1Center,bC1Half,bC1Peak,xB,yB,invB,boxB,bgB);
  ridge($('b-cells'),bO1Rows,bO1Center,bO1Half,bO1Peak,xB,yB,invB,boxB,bgB);
  xAxis($('b-axes'),xB,voltageTicks,voltageTickLabels,201,219,voltageMinor,15.5);
  yAxis($('b-axes'),yB,scanRows,scanLabels,387,382,null,16);
})();

/* panel c */
(function(){
  const x=lin(0.3,0.7,803,1011),y=lin(0,4,111,23),m=$('c-marks');
  polyline(m,cScan,cPbaO1,x,y,'#e8666a',2.2,'pba-o1-line');
  polyline(m,cScan,cCuO1,x,y,'#4a90d4',2.2,'cu-o1-line');
  polyline(m,cScan,cCuC1,x,y,'#4a90d4',2.2,'cu-c1-line');
  polyline(m,cScan,cPbaC1,x,y,'#e8666a',2.2,'pba-c1-line');
  scatter(m,cScan,cPbaO1,x,y,3.6,'url(#ballRed)','pba-o1-point');
  scatter(m,cScan,cCuO1,x,y,3.6,'url(#ballBlue)','cu-o1-point');
  scatter(m,cScan,cCuC1,x,y,3.6,'url(#ballBlue)','cu-c1-point');
  scatter(m,cScan,cPbaC1,x,y,3.6,'url(#ballRed)','pba-c1-point');
  const a=mk('circle',m,{cx:789,cy:23,r:3.6,fill:'url(#ballRed)'});
  
  
  const b=mk('circle',m,{cx:789,cy:43,r:3.6,fill:'url(#ballBlue)'});
  
  
  xAxis($('c-axes'),x,cXTicks,cXLabels,207,224,[0.35,0.45,0.55,0.65]);
  yAxis($('c-axes'),y,cYTicks,cYLabels,777,771,[-3,-1,1,3]);
})();

/* panels d,e */
(function(){
  const xD=lin(-6,1,82,304),yD=lin(0,1,452,261),invD=lin(452,261,0,1),boxD={x0:65,x1:320,y0:261,y1:452},bgD=[143,2,251],gd=$('d-cells');
  ridge(gd,dFaintRows,dFaintCenter,dFaintHalf,dFaintPeak,xD,yD,invD,boxD,bgD);
  ridge(gd,dFaintTopRows,dFaintTopCenter,dFaintTopHalf,dFaintTopPeak,xD,yD,invD,boxD,bgD);
  ridge(gd,dLowRows,dLowCenter,dLowHalf,dLowPeak,xD,yD,invD,boxD,bgD);
  ridge(gd,dMidRows,dMidCenter,dMidHalf,dMidPeak,xD,yD,invD,boxD,bgD);
  ridge(gd,dTopRows,dTopCenter,dTopHalf,dTopPeak,xD,yD,invD,boxD,bgD);
  logAxis($('d-axes'),xD,tauExponents,452,473);
  const xE=lin(-6,1,399,623),yE=lin(0,1,454,263),invE=lin(454,263,0,1),boxE={x0:383,x1:639,y0:263,y1:454},bgE=[127,12,240],ge=$('e-cells');
  ridge(ge,eFaintRows,eFaintCenter,eFaintHalf,eFaintPeak,xE,yE,invE,boxE,bgE);
  ridge(ge,eLowRows,eLowCenter,eLowHalf,eLowPeak,xE,yE,invE,boxE,bgE);
  ridge(ge,eMidRows,eMidCenter,eMidHalf,eMidPeak,xE,yE,invE,boxE,bgE);
  ridge(ge,eTopRows,eTopCenter,eTopHalf,eTopPeak,xE,yE,invE,boxE,bgE);
  logAxis($('e-axes'),xE,tauExponents,454,477);
})();

/* panel f */
(function(){
  const x=lin(0,60,779,1039),y=lin(0,200,457,295),ce=lin(40,100,457,290),m=$('f-marks');
  const bandColors=['#e9f5ee','#ebe7f1','#e9f0f9','#fff4dc','#dbe5f2','#e6f5ec'];
  for(let i=0;i<fBandEdges.length-1;i++){
    const r=mk('rect',$('f-bands'),{x:x(fBandEdges[i]),y:263,width:x(fBandEdges[i+1])-x(fBandEdges[i]),height:194,fill:bandColors[i]});
    
    
  }
  xAxis($('f-axes'),x,fXTicks,fXLabels,457,469,[5,15,25,35,45,55],15.5);
  yAxis($('f-axes'),y,fYTicks,fYLabels,779,772,[25,75,125,175],15.5);
  rightAxis($('f-axes'),ce,fCETicks,fCELabels,1039,1045,[50,70,90]);
  scatter(m,fCycles,fPbaCE,x,ce,3,'url(#ballRed)','pba-ce-point');
  scatter(m,fCycles,fCuCE,x,ce,3,'url(#ballBlue)','cu-ce-point');
  scatter(m,fCycles,fPbaCap,x,y,3,'url(#ballRed)','pba-capacity-point');
  scatter(m,fCycles,fCuCap,x,y,3,'url(#ballBlue)','cu-capacity-point');
  const a=mk('circle',m,{cx:874,cy:331,r:2.8,fill:'url(#ballRed)'});
  
  
  const b=mk('circle',m,{cx:874,cy:351,r:2.8,fill:'url(#ballBlue)'});
  
  
})();

/* panels g,h */
function voltagePanel(lineGroup,axes,x,y,cq,cv,dq,dv,colors,legX0,legX1,legText,legY,ax,lx,by,bly){
  [1,2,3,4,0].forEach(i=>{
    polyline(lineGroup,cq[i],cv[i],x,y,colors[i],i===0?1.3:2,'charge-curve');
    polyline(lineGroup,dq[i],dv[i],x,y,colors[i],i===0?1.3:2,'discharge-curve');
  });
  rates.forEach((r,i)=>{
    const l=mk('line',lineGroup,{x1:legX0,x2:legX1,y1:legY[i],y2:legY[i],stroke:colors[i],'stroke-width':2});
    
    
    const t=mk('text',lineGroup,{x:legText,y:legY[i]+5,class:'tk',style:'letter-spacing:.4px'});
    t.textContent=r;
    
    
  });
  xAxis(axes,x,capTicks,capLabels,by,bly,[10,30,50,70,90,110],14.5);
  yAxis(axes,y,voltTicks,voltLabels,ax,lx,[2.25,2.75,3.25,3.75],14.5);
}
voltagePanel($('g-lines'),$('g-axes'),lin(0,120,68,323),lin(2,4,683,513),gChargeQ,gChargeV,gDisQ,gDisV,['#6e1218','#b5242c','#e8777a','#ef9a9a','#f7c9c9'],73,97,99,[604,622,641,660,680],68,62,692,709);
voltagePanel($('h-lines'),$('h-axes'),lin(0,120,434,690),lin(2,4,688,514),hChargeQ,hChargeV,hDisQ,hDisV,['#1f4e93','#6a9bd8','#8ab4e2','#aecbec','#d2e2f5'],440,463,466,[606,626,646,666,685],434,428,696,714);

/* panel i */
(function(){
  const x=i=>804.7+51.5*i,y=lin(0,120,700,535),w=15.5,g=$('i-bars');
  iCats.forEach((c,i)=>{
    const a=mk('rect',g,{x:x(i)-w,y:y(iPba[i]),width:w,height:y(0)-y(iPba[i]),fill:'url(#barRed)'});
    
    
    const b=mk('rect',g,{x:x(i),y:y(iCu[i]),width:w,height:y(0)-y(iCu[i]),fill:'url(#barBlue)'});
    
    
  });
  xAxis($('i-axes'),x,[0,1,2,3,4],iCats,700,715,[],15,0);
  yAxis($('i-axes'),y,iYTicks,iYLabels,778,772,[20,60,100]);
})();

/* panel j */
(function(){
  const x=lin(0,1500,66,323),y=lin(0,200,956,773),ce=lin(40,100,956,791),m=$('j-marks');
  xAxis($('j-axes'),x,jXTicks,jXLabels,957,973,[250,750,1250],15.5);
  yAxis($('j-axes'),y,jYTicks,jYLabels,66,63,[25,75,125,175],15.5);
  rightAxis($('j-axes'),ce,jCETicks,jCELabels,323,326,[50,70,90]);
  scatter(m,jSampleCycles,jPbaCE,x,ce,3.4,'#e8696e','pba-ce-point');
  scatter(m,jSampleCycles,jPbaCap,x,y,3.4,'#e8696e','pba-capacity-point');
  scatter(m,jPbaEarlyCycles,jPbaEarlyCap,x,y,3.1,'url(#ballRed)','pba-early-point');
  scatter(m,jCuCycles,jCuCap,x,y,3.1,'url(#ballBlue)','cu-point');
  const p=mk('circle',m,{cx:323,cy:793,r:3,fill:'#e8696e'});
  
  
  const a=mk('circle',m,{cx:160,cy:928,r:3.1,fill:'url(#ballRed)'});
  
  
  const b=mk('circle',m,{cx:160,cy:948,r:3.1,fill:'url(#ballBlue)'});
  
  
})();

/* panel k */
(function(){
  const x=lin(0,300,432,689),y=lin(0,200,955,772),ce=lin(40,100,955,791),m=$('k-marks');
  xAxis($('k-axes'),x,kXTicks,kXLabels,955,973,[25,75,125,175,225,275],15);
  yAxis($('k-axes'),y,jYTicks,jYLabels,432,428,[25,75,125,175],15.5);
  rightAxis($('k-axes'),ce,jCETicks,jCELabels,689,693,[50,70,90]);
  const cuCECycles=kCuCE.map((_,i)=>5+2*i);
  const cuCapCycles=kCuCap.map((_,i)=>5+3*i);
  const pbaCapCycles=kPbaCap.map((_,i)=>3+3*i);
  const pbaCECycles=kPbaCE.map((_,i)=>6+3*i);
  scatter(m,cuCECycles,kCuCE,x,ce,3.1,'url(#ballBlue)','cu-ce-point');
  scatter(m,kCuOutlierCycles,kCuOutliers,x,ce,3.1,'url(#ballBlue)','cu-ce-outlier');
  scatter(m,pbaCECycles,kPbaCE,x,ce,3.1,'url(#ballRed)','pba-ce-point');
  scatter(m,kPbaCEDipCycles,kPbaCEDips,x,ce,2.8,'url(#ballRed)','pba-ce-dip');
  scatter(m,pbaCapCycles,kPbaCap,x,y,3,'url(#ballRed)','pba-capacity-point');
  scatter(m,cuCapCycles,kCuCap,x,y,3.1,'url(#ballBlue)','cu-capacity-point');
  scatter(m,kCuEarlyCycles,kCuEarlyCap,x,y,3,'url(#ballBlue)','cu-early-point');
})();

/* panel l */
(function(){
  const x=lin(0,6,792,1014),y=lin(0,600,932,787),m=$('l-marks');
  const drop=[[0,500,2,500],[0,300,5,300],[2,500,2,-100],[5,300,5,-100]];
  drop.forEach(d=>{
    const x1=d[0]===0&&d[2]!==d[0]?773:x(d[0]);
    const l=mk('line',m,{x1:x1,y1:y(d[1]),x2:x(d[2]),y2:d[3]===-100?956:y(d[3]),stroke:'#e87b82','stroke-width':1.1,'stroke-dasharray':'1.6 1.6'});
    
    
  });
  function star(cx,cy,R){let s='';for(let i=0;i<10;i++){const r=i%2?R*0.42:R,a=-Math.PI/2+i*Math.PI/5;s+=(cx+r*Math.cos(a)).toFixed(1)+','+(cy+r*Math.sin(a)).toFixed(1)+' ';}return s;}
  function regular(cx,cy,R,n,rot){let s='';for(let i=0;i<n;i++){const a=rot+i*2*Math.PI/n;s+=(cx+R*Math.cos(a)).toFixed(1)+','+(cy+R*Math.sin(a)).toFixed(1)+' ';}return s;}
  const up=-Math.PI/2;
  const drawers={
    'Ref.17':(cx,cy)=>mk('polygon',m,{points:regular(cx,cy,6.8,3,up),fill:'#f49a9a'}),
    'This work':(cx,cy)=>mk('polygon',m,{points:star(cx,cy,7.6),fill:'#ee8186'}),
    'Ref.51':(cx,cy)=>mk('polygon',m,{points:regular(cx,cy,5.6,5,up),fill:'#55a5f0'}),
    'Ref.22':(cx,cy)=>mk('polygon',m,{points:regular(cx,cy,5.6,3,Math.PI/2),fill:'#c49af0'}),
    'Ref.52':(cx,cy)=>mk('circle',m,{cx:cx,cy:cy,r:4.6,fill:'url(#ballBlue)',stroke:'#1f5fa8','stroke-width':1.2}),
    'Ref.28':(cx,cy)=>mk('polygon',m,{points:regular(cx,cy,4.9,8,Math.PI/8),fill:'#ee1a1a'}),
    'Ref.50':(cx,cy)=>mk('polygon',m,{points:regular(cx,cy,6.2,3,Math.PI),fill:'#8ef08e'}),
    'Ref.49':(cx,cy)=>mk('polygon',m,{points:regular(cx,cy,5.6,4,0),fill:'#60e060'}),
    'Ref.star':(cx,cy)=>mk('polygon',m,{points:star(cx,cy,6.6),fill:'#9af09a'})
  };
  lRefs.forEach((r,i)=>{
    const e=drawers[r](x(lCurrent[i]),y(lCycles[i]));
    
    
  });
  xAxis($('l-axes'),x,lXTicks,lXLabels,956,977,[1,3,5],15);
  yAxis($('l-axes'),y,lYTicks,lYLabels,773,767,[100,300,500],15);
})();
</script>
</body>
</html>
